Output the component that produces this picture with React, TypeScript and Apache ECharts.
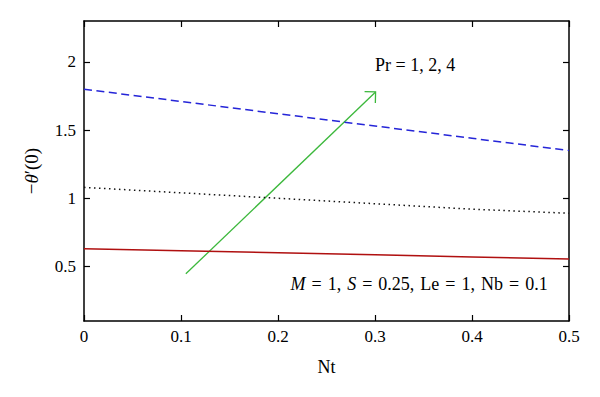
import React, { useEffect, useRef } from "react";
import * as echarts from "echarts";

const ntValues = [0, 0.1, 0.2, 0.3, 0.4, 0.5];
const pr1Values = [0.63, 0.615, 0.6, 0.585, 0.57, 0.555];
const pr2Values = [1.08, 1.04, 1.0, 0.96, 0.92, 0.89];
const pr4Values = [1.8, 1.71, 1.62, 1.53, 1.44, 1.35];
const arrowStart = [0.105, 0.446];
const arrowEnd = [0.3006, 1.78];
const yTicks = [0.5, 1, 1.5, 2];
const prLabelPos = [0.3, 1.98];
const paramLabelPos = [0.478, 0.37];

const FONT = "'Liberation Serif', 'Times New Roman', serif";
const SP = "\u2004";

function pairs(ys: number[]) {
  return ntValues.map((x, i) => [x, ys[i]]);
}

export default function App() {
  const ref = useRef<HTMLDivElement>(null);
  useEffect(() => {
    if (!ref.current) return;
    const chart = echarts.init(ref.current, null, { renderer: "svg" });
    const axisLine = { show: true, onZero: false, lineStyle: { color: "#000", width: 1.5 } };
    const axisTickBase = { show: true, inside: true, length: 6, lineStyle: { color: "#000", width: 1.2 } };
    chart.setOption({
      animation: false,
      backgroundColor: "#fff",
      grid: { left: 84, right: 31, top: 21, bottom: 76, containLabel: false },
      graphic: [
        {
          type: "text",
          x: 31,
          y: 171,
          rotation: Math.PI / 2,
          style: {
            text: "−{i|θ}′(0)",
            fill: "#000",
            font: `19px ${FONT}`,
            align: "center",
            verticalAlign: "middle",
            rich: {
              i: { fontStyle: "italic", fontFamily: FONT, fontSize: 19, fill: "#000" },
            },
          },
        },
      ],
      xAxis: [
        {
          type: "value",
          min: 0,
          max: 0.5,
          interval: 0.1,
          position: "bottom",
          axisLine,
          axisTick: axisTickBase,
          splitLine: { show: false },
          axisLabel: { color: "#000", fontFamily: FONT, fontSize: 17, margin: 7 },
          name: "Nt",
          nameLocation: "middle",
          nameGap: 37,
          nameTextStyle: { color: "#000", fontFamily: FONT, fontSize: 18 },
        },
        {
          type: "value",
          min: 0,
          max: 0.5,
          interval: 0.1,
          position: "top",
          axisLine,
          axisTick: axisTickBase,
          splitLine: { show: false },
          axisLabel: { show: false },
        },
      ],
      yAxis: [
        {
          type: "value",
          min: 0.1,
          max: 2.3,
          position: "left",
          axisLine,
          axisTick: { ...axisTickBase, customValues: yTicks },
          splitLine: { show: false },
          axisLabel: { color: "#000", fontFamily: FONT, fontSize: 17, margin: 8, customValues: yTicks },
        },
        {
          type: "value",
          min: 0.1,
          max: 2.3,
          position: "right",
          axisLine,
          axisTick: { ...axisTickBase, customValues: yTicks },
          splitLine: { show: false },
          axisLabel: { show: false, customValues: yTicks },
        },
      ],
      series: [
        {
          type: "line",
          data: pairs(pr1Values),
          showSymbol: false,
          lineStyle: { color: "#b01010", width: 1.5 },
        },
        {
          type: "line",
          data: pairs(pr2Values),
          showSymbol: false,
          lineStyle: { color: "#111", width: 1.5, type: [1.5, 3.5] },
        },
        {
          type: "line",
          data: pairs(pr4Values),
          showSymbol: false,
          lineStyle: { color: "#2525d8", width: 1.5, type: [8, 4.5] },
        },
        {
          type: "custom",
          data: [[arrowStart[0], arrowStart[1], arrowEnd[0], arrowEnd[1]]],
          encode: { x: [0, 2], y: [1, 3] },
          renderItem: (params: any, api: any) => {
            const p0 = api.coord([api.value(0), api.value(1)]);
            const p1 = api.coord([api.value(2), api.value(3)]);
            const ang = Math.atan2(p1[1] - p0[1], p1[0] - p0[0]);
            const L = 11;
            const h = (45 * Math.PI) / 180;
            const a1 = [p1[0] - L * Math.cos(ang - h), p1[1] - L * Math.sin(ang - h)];
            const a2 = [p1[0] - L * Math.cos(ang + h), p1[1] - L * Math.sin(ang + h)];
            const style = { stroke: "#3cb83c", lineWidth: 1.3, fill: "none" };
            return {
              type: "group",
              children: [
                { type: "line", shape: { x1: p0[0], y1: p0[1], x2: p1[0], y2: p1[1] }, style },
                { type: "polyline", shape: { points: [a1, p1, a2] }, style },
              ],
            };
          },
        },
        {
          type: "custom",
          data: [[prLabelPos[0], prLabelPos[1]]],
          renderItem: (params: any, api: any) => {
            const p = api.coord([api.value(0), api.value(1)]);
            return {
              type: "text",
              x: p[0],
              y: p[1],
              style: {
                text: "Pr = 1, 2, 4",
                fill: "#000",
                font: `18px ${FONT}`,
                textAlign: "left",
                textVerticalAlign: "middle",
              },
            };
          },
        },
        {
          type: "custom",
          data: [[paramLabelPos[0], paramLabelPos[1]]],
          renderItem: (params: any, api: any) => {
            const p = api.coord([api.value(0), api.value(1)]);
            return {
              type: "text",
              x: p[0],
              y: p[1],
              style: {
                text: `{i|M}${SP}=${SP}1,${SP}{i|S}${SP}=${SP}0.25,${SP}Le${SP}=${SP}1,${SP}Nb${SP}=${SP}0.1`,
                fill: "#000",
                font: `18px ${FONT}`,
                textAlign: "right",
                textVerticalAlign: "middle",
                rich: {
                  i: { fontStyle: "italic", fontFamily: FONT, fontSize: 18, fill: "#000" },
                },
              },
            };
          },
        },
      ],
    });
    return () => chart.dispose();
  }, []);
  return (
    <div
      ref={ref}
      style={{ position: "absolute", left: 0, top: 0, width: 600, height: 397, background: "#fff" }}
    />
  );
}
